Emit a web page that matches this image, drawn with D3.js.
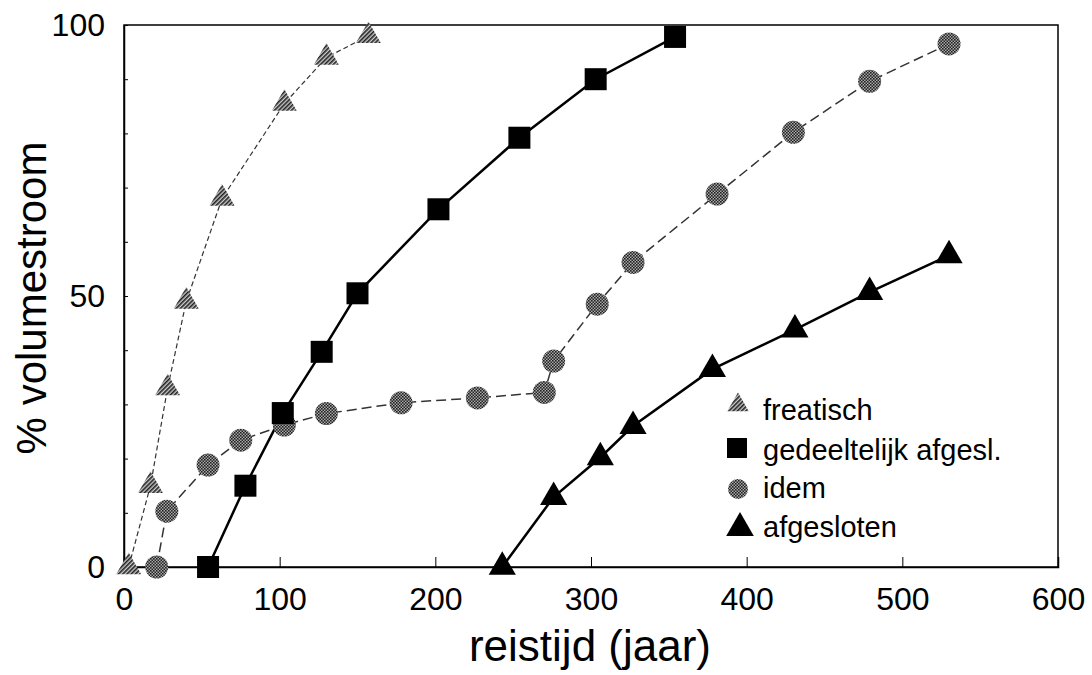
<!DOCTYPE html>
<html>
<head>
<meta charset="utf-8">
<script src="https://cdn.jsdelivr.net/npm/d3@7"></script>
<style>
  body { margin: 0; background: #fff; }
  text { font-family: "Liberation Sans", Arial, sans-serif; fill: #000; }
</style>
</head>
<body>
<div class="main-container"></div>
<script>
// data: [reistijd, % volumestroom]
var freatisch = [[3, 0], [17, 15], [28, 33], [40, 49], [63, 68], [103, 85.5], [130, 94], [157, 98]];
var gedeeltelijk = [[54, 0], [78, 15], [102, 28.4], [127, 39.7], [150, 50.5], [202, 66], [254, 79.2], [303, 90], [354, 97.8]];
var idem = [[21, 0], [27.5, 10.3], [54, 18.8], [75, 23.4], [103, 26.2], [130, 28.3], [178, 30.3], [227, 31.2], [270, 32.2], [276, 38], [304, 48.5], [327, 56.2], [381, 68.8], [430, 80.2], [479, 89.6], [530, 96.5]];
var afgesloten = [[243, 0], [276, 12.9], [306, 20.2], [327, 26], [378, 36.5], [431, 43.8], [479, 50.7], [530, 57.5]];

var xTicks = [0, 100, 200, 300, 400, 500, 600];
var yTicks = [0, 50, 100];
var yMinor = d3.range(0, 101, 10);
var legendLabels = ["freatisch", "gedeeltelijk afgesl.", "idem", "afgesloten"];

var width = 1092, height = 675;
var x = d3.scaleLinear().domain([0, 600]).range([124, 1058]);
var y = d3.scaleLinear().domain([0, 100]).range([567, 25]);

var svg = d3.select(".main-container").append("svg")
    .attr("width", width).attr("height", height);

var defs = svg.append("defs");
var hatch = defs.append("pattern").attr("id", "hatch")
    .attr("patternUnits", "userSpaceOnUse").attr("width", 3).attr("height", 3)
    .attr("patternTransform", "rotate(45)");
hatch.append("rect").attr("width", 3).attr("height", 3).attr("fill", "#ccc");
hatch.append("rect").attr("width", 1.6).attr("height", 3).attr("fill", "#222");
var dots = defs.append("pattern").attr("id", "dots")
    .attr("patternUnits", "userSpaceOnUse").attr("width", 3).attr("height", 3);
dots.append("rect").attr("width", 3).attr("height", 3).attr("fill", "#aaa");
dots.append("rect").attr("width", 1.6).attr("height", 1.6).attr("fill", "#222");
dots.append("rect").attr("x", 1.5).attr("y", 1.5).attr("width", 1.5).attr("height", 1.5).attr("fill", "#222");

// plot frame
svg.append("rect").attr("x", x(0)).attr("y", y(100))
    .attr("width", x(600) - x(0)).attr("height", y(0) - y(100))
    .attr("fill", "none").attr("stroke", "#000").attr("stroke-width", 1.5);

// axes (ticks pointing inwards)
svg.append("g").attr("transform", "translate(0," + y(0) + ")")
    .call(d3.axisBottom(x).tickValues(xTicks).tickSize(-10).tickPadding(20).tickFormat(d3.format("d")))
    .call(function (g) {
        g.select(".domain").attr("stroke-width", 1.5);
        g.selectAll("text").style("font-size", "32px");
    });

svg.append("g").attr("transform", "translate(" + x(0) + ",0)")
    .call(d3.axisLeft(y).tickValues(yMinor).tickSize(-4).tickFormat(""))
    .call(function (g) { g.select(".domain").remove(); });

svg.append("g").attr("transform", "translate(" + x(0) + ",0)")
    .call(d3.axisLeft(y).tickValues(yTicks).tickSize(0).tickPadding(19).tickFormat(d3.format("d")))
    .call(function (g) {
        g.select(".domain").attr("stroke-width", 1.5);
        g.selectAll("text").style("font-size", "32px");
    });

// axis titles
svg.append("text").attr("x", 590).attr("y", 661).attr("text-anchor", "middle")
    .style("font-size", "44px").text("reistijd (jaar)");
svg.append("text").attr("transform", "translate(46,298) rotate(-90)")
    .attr("text-anchor", "middle").style("font-size", "42px").text("% volumestroom");

var line = d3.line().x(function (d) { return x(d[0]); }).y(function (d) { return y(d[1]); });

svg.append("path").datum(freatisch).attr("d", line)
    .attr("fill", "none").attr("stroke", "#333").attr("stroke-width", 1.2).attr("stroke-dasharray", "5,3");
svg.append("path").datum(idem).attr("d", line)
    .attr("fill", "none").attr("stroke", "#333").attr("stroke-width", 1.5).attr("stroke-dasharray", "10,5");
svg.append("path").datum(gedeeltelijk).attr("d", line)
    .attr("fill", "none").attr("stroke", "#000").attr("stroke-width", 2.5);
svg.append("path").datum(afgesloten).attr("d", line)
    .attr("fill", "none").attr("stroke", "#000").attr("stroke-width", 2.5);

var triSmall = d3.symbol().type(d3.symbolTriangle).size(270);
var triBig = d3.symbol().type(d3.symbolTriangle).size(320);

svg.selectAll(".fr").data(freatisch).enter().append("path")
    .attr("transform", function (d) { return "translate(" + x(d[0]) + "," + y(d[1]) + ")"; })
    .attr("d", triSmall).attr("fill", "url(#hatch)");

svg.selectAll(".id").data(idem).enter().append("circle")
    .attr("cx", function (d) { return x(d[0]); }).attr("cy", function (d) { return y(d[1]); })
    .attr("r", 11.5).attr("fill", "url(#dots)");

svg.selectAll(".ge").data(gedeeltelijk).enter().append("rect")
    .attr("x", function (d) { return x(d[0]) - 11; }).attr("y", function (d) { return y(d[1]) - 11; })
    .attr("width", 22).attr("height", 22).attr("fill", "#000");

svg.selectAll(".af").data(afgesloten).enter().append("path")
    .attr("transform", function (d) { return "translate(" + x(d[0]) + "," + y(d[1]) + ")"; })
    .attr("d", triBig).attr("fill", "#000");

// legend
var markY = [405, 448, 489, 528];
var textY = [420, 460, 498, 537];
var leg = svg.append("g");
leg.append("path").attr("transform", "translate(738," + markY[0] + ")")
    .attr("d", d3.symbol().type(d3.symbolTriangle).size(200)).attr("fill", "url(#hatch)");
leg.append("rect").attr("x", 727).attr("y", markY[1] - 10).attr("width", 20).attr("height", 20).attr("fill", "#000");
leg.append("circle").attr("cx", 738).attr("cy", markY[2]).attr("r", 10).attr("fill", "url(#dots)");
leg.append("path").attr("transform", "translate(740," + markY[3] + ")")
    .attr("d", d3.symbol().type(d3.symbolTriangle).size(330)).attr("fill", "#000");
leg.selectAll("text").data(legendLabels).enter().append("text")
    .attr("x", 763).attr("y", function (d, i) { return textY[i]; })
    .style("font-size", "29px").text(function (d) { return d; });
</script>
</body>
</html>
